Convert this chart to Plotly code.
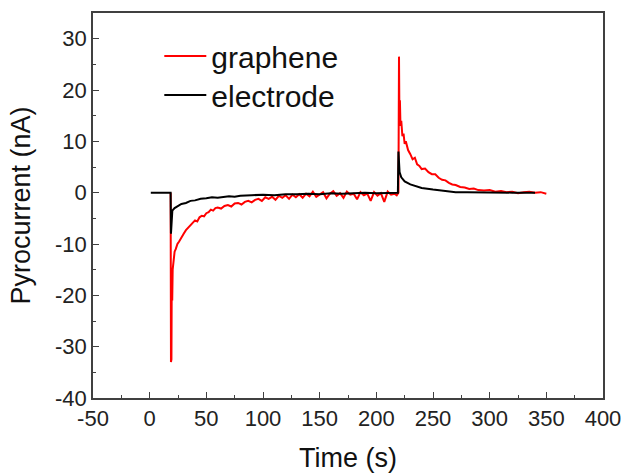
import plotly.graph_objects as go

# graphene pyrocurrent (time s, current nA)
graphene_t = [18.5, 18.8, 19.2, 19.5, 19.9, 20.3, 21, 22, 23, 24.5, 26, 28, 30, 32, 34, 36, 38, 40,
              42, 44, 46, 48, 50, 52, 54, 56, 58, 60, 63, 66, 69, 72, 75, 78, 81, 84, 87, 90, 93, 96,
              99, 102, 105, 108, 111, 114, 117, 120, 123, 126, 129, 132, 135, 138, 141, 144, 147, 150,
              153, 156, 159, 162, 165, 168, 171, 174, 177, 180, 183, 186, 189, 192, 195, 198, 201, 204,
              207, 210, 213, 216, 218, 219.5, 220, 220.4, 220.8, 221.3, 222, 223, 224, 225, 226, 228,
              230, 232, 234, 236, 238, 240, 243, 246, 249, 252, 255, 258, 261, 264, 267, 270, 274, 278,
              282, 286, 290, 295, 300, 305, 310, 315, 320, 325, 330, 335, 340, 345, 350]
graphene_i = [0, -33, -32.5, -16, -21, -15, -13, -11.5, -11, -10, -9.5, -8.6, -8, -7.3, -6.8, -6.5, -6, -5.4,
              -5.6, -4.8, -4.5, -4.6, -4.0, -3.8, -3.3, -3.5, -3.0, -2.9, -3.1, -2.6, -2.4, -2.7, -2.1, -2.0,
              -2.3, -1.8, -1.6, -1.9, -1.4, -1.2, -1.6, -0.9, -1.2, -0.8, -1.4, -0.6, -1.0, -0.5, -1.2, -0.4,
              -0.9, -0.3, -1.0, -0.2, -0.7, 0.2, -0.8, -0.3, 0.1, -1.1, -0.2, 0.3, -0.6, -0.1, -1.0, 0.2,
              -0.4, -0.2, -1.3, 0.1, -0.5, -0.2, -1.6, 0.1, -0.6, -0.1, -1.8, 0.2, -0.4, -0.2, -0.5, 0,
              26.5, 14, 18, 13, 14, 11, 11.5, 9.5, 10, 8.3, 7.5, 6.5, 6.8, 5.5, 5.2, 4.6, 4.7, 4.0, 3.6,
              3.6, 2.9, 2.5, 2.4, 1.9, 1.6, 1.5, 1.1, 1.0, 0.7, 0.8, 0.5, 0.4, 0.5, 0.2, 0.3, 0.1, 0.2,
              -0.1, 0.1, 0.2, 0.0, 0.1, -0.2]

# electrode pyrocurrent
electrode_t = [1, 5, 10, 15, 18.5, 18.8, 19.3, 20, 22, 25, 28, 32, 36, 40, 45, 50, 55, 60, 65, 70, 75, 80,
               90, 100, 110, 120, 130, 140, 150, 160, 170, 180, 190, 200, 210, 219, 219.5, 220.5, 222,
               225, 230, 235, 240, 250, 260, 270, 280, 290, 300, 310, 320, 330, 340]
electrode_i = [0, 0, 0.1, 0, 0, -8, -4, -3.5, -3, -2.6, -2.2, -2.0, -1.6, -1.5, -1.2, -1.1, -0.9, -1.0,
               -0.8, -0.7, -0.8, -0.6, -0.5, -0.4, -0.5, -0.3, -0.3, -0.2, -0.3, -0.1, -0.2, -0.1, 0,
               -0.1, 0, 0, 8, 4, 3, 2.2, 1.6, 1.2, 0.9, 0.6, 0.3, 0.1, 0.1, 0.05, 0, 0, 0, 0, 0]

x_ticks = [-50, 0, 50, 100, 150, 200, 250, 300, 350, 400]
x_labels = ["-50", "0", "50", "100", "150", "200", "250", "300", "350", "400"]
y_ticks = [-40, -30, -20, -10, 0, 10, 20, 30]
y_labels = ["-40", "-30", "-20", "-10", "0", "10", "20", "30"]

FONT = "Liberation Sans, Arial, sans-serif"

fig = go.Figure()
fig.add_trace(go.Scatter(x=graphene_t, y=graphene_i, mode="lines", name="graphene",
                         line=dict(color="#ff0000", width=2), legend="legend"))
fig.add_trace(go.Scatter(x=electrode_t, y=electrode_i, mode="lines", name="electrode",
                         line=dict(color="#000000", width=2), legend="legend2"))

axis_common = dict(showline=True, linecolor="#404040", linewidth=1.5, mirror=True,
                   ticks="inside", ticklen=6, tickwidth=1.2, tickcolor="#404040",
                   showgrid=False, zeroline=False, automargin=False,
                   tickfont=dict(family=FONT, size=22, color="#222222"))

fig.update_xaxes(range=[-50, 400], tickvals=x_ticks, ticktext=x_labels,
                 minor=dict(ticks="inside", ticklen=3, dtick=25, tick0=-50, tickcolor="#404040"),
                 title=dict(text="Time (s)", font=dict(family=FONT, size=27, color="#111111"), standoff=18),
                 **axis_common)
fig.update_yaxes(range=[-40, 35], tickvals=y_ticks, ticktext=y_labels,
                 minor=dict(ticks="inside", ticklen=3, dtick=5, tick0=-40, tickcolor="#404040"),
                 title=dict(text="Pyrocurrent (nA)", font=dict(family=FONT, size=27, color="#111111"), standoff=17),
                 **axis_common)

legend_style = dict(xanchor="left", yanchor="middle", bgcolor="rgba(0,0,0,0)",
                    font=dict(family=FONT, size=30, color="#111111"), itemwidth=42)

fig.update_layout(
    width=625, height=474,
    margin=dict(l=93, r=22, t=13, b=76),
    plot_bgcolor="white", paper_bgcolor="white",
    legend=dict(x=0.13, y=0.888, **legend_style),
    legend2=dict(x=0.13, y=0.787, **legend_style),
    showlegend=True,
)

fig.write_html("out.html", config={"displayModeBar": False},
               post_script="document.body.style.margin='0';")
